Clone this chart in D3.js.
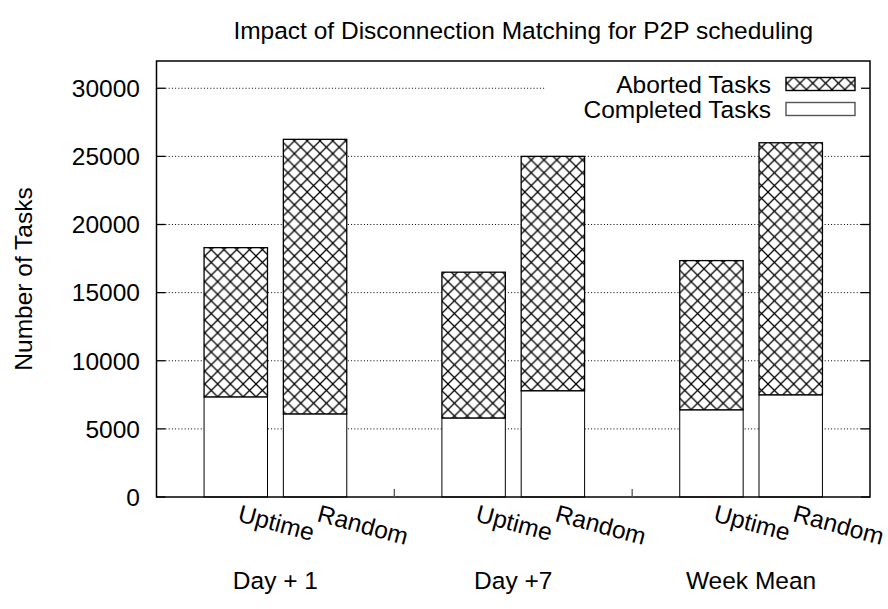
<!DOCTYPE html>
<html>
<head>
<meta charset="utf-8">
<script src="https://cdn.jsdelivr.net/npm/d3@7/dist/d3.min.js"></script>
<style>
  html, body { margin: 0; padding: 0; background: #fff; }
  svg { display: block; font-family: "Liberation Sans", Arial, sans-serif; }
</style>
</head>
<body>
<svg id="chart" width="888" height="609"></svg>
<script>
'use strict';

// Stacked histogram: completed (white) + aborted (crosshatch) per scheduler.

const groups = ['Day + 1', 'Day +7', 'Week Mean'];
const policies = ['Uptime', 'Random'];
// [group][policy]
const completed = [[7350, 6100], [5800, 7800], [6400, 7500]];
const aborted = [[10950, 20150], [10700, 17200], [10950, 18500]];
const yTicks = [0, 5000, 10000, 15000, 20000, 25000, 30000];
const legendItems = ['Aborted Tasks', 'Completed Tasks'];

const W = 888, H = 609;
const M = { left: 156.5, right: 870, top: 61, bottom: 497 };
const FONT = 24.5;
const BAR_W = 0.8;   // in slot units
const SLOTS_PER_GROUP = 3;

const svg = d3.select('#chart');
svg.append('rect').attr('width', W).attr('height', H).attr('fill', '#fff');

// hatch pattern
const defs = svg.append('defs');
const hs = 12.8;
const pat = defs.append('pattern')
	.attr('id', 'xhatch')
	.attr('patternUnits', 'userSpaceOnUse')
	.attr('width', hs).attr('height', hs);
pat.append('rect').attr('width', hs).attr('height', hs).attr('fill', '#fff');
pat.append('path')
	.attr('d', `M0,0L${hs},${hs}M${hs},0L0,${hs}M${-hs / 2},${hs / 2}L${hs / 2},${-hs / 2}`)
	.attr('stroke', '#000').attr('stroke-width', 1.25).attr('fill', 'none');

const nSlots = groups.length * SLOTS_PER_GROUP;
const x = d3.scaleLinear().domain([-1, nSlots - 1]).range([M.left, M.right]);
const y = d3.scaleLinear().domain([0, 32000]).range([M.bottom, M.top]);

const slotOf = (g, p) => g * SLOTS_PER_GROUP + p;

// grid
svg.append('g').selectAll('line')
	.data(yTicks.filter((t) => t > 0))
	.join('line')
	.attr('x1', M.left + 9).attr('x2', M.right - 9)
	.attr('y1', (d) => y(d)).attr('y2', (d) => y(d))
	.attr('stroke', '#000').attr('stroke-width', 1)
	.attr('stroke-dasharray', '1,2.2');

// bars
const rows = [];
groups.forEach((g, gi) => policies.forEach((p, pi) => {
	rows.push({ gi, pi, c: completed[gi][pi], a: aborted[gi][pi] });
}));

const bw = x(BAR_W) - x(0);
const bars = svg.append('g');
bars.selectAll('rect.comp').data(rows).join('rect')
	.attr('x', (d) => x(slotOf(d.gi, d.pi)) - bw / 2)
	.attr('width', bw)
	.attr('y', (d) => y(d.c))
	.attr('height', (d) => y(0) - y(d.c))
	.attr('fill', '#fff').attr('stroke', '#000').attr('stroke-width', 1);
bars.selectAll('rect.abort').data(rows).join('rect')
	.attr('x', (d) => x(slotOf(d.gi, d.pi)) - bw / 2)
	.attr('width', bw)
	.attr('y', (d) => y(d.c + d.a))
	.attr('height', (d) => y(d.c) - y(d.c + d.a))
	.attr('fill', 'url(#xhatch)').attr('stroke', '#000').attr('stroke-width', 1.3);

// legend (opaque key)
const key = svg.append('g');
key.append('rect').attr('x', 545).attr('y', 65).attr('width', 322).attr('height', 58).attr('fill', '#fff');
legendItems.forEach((label, i) => {
	const cy = 84 + i * 25;
	key.append('text')
		.attr('x', 771).attr('y', cy).attr('dy', '0.36em')
		.attr('text-anchor', 'end').attr('font-size', FONT).text(label);
	key.append('rect')
		.attr('x', 786).attr('y', cy - 6.5).attr('width', 69).attr('height', 13)
		.attr('fill', i === 0 ? 'url(#xhatch)' : '#fff')
		.attr('stroke', i === 0 ? '#000' : '#555').attr('stroke-width', 1.4);
});

// frame
svg.append('rect')
	.attr('x', M.left).attr('y', M.top)
	.attr('width', M.right - M.left).attr('height', M.bottom - M.top)
	.attr('fill', 'none').attr('stroke', '#000').attr('stroke-width', 1.5);

// y ticks, both sides, inward
const ticks = svg.append('g').attr('stroke', '#000').attr('stroke-width', 1.3);
yTicks.forEach((t) => {
	ticks.append('line').attr('x1', M.left).attr('x2', M.left + 9).attr('y1', y(t)).attr('y2', y(t));
	ticks.append('line').attr('x1', M.right).attr('x2', M.right - 9).attr('y1', y(t)).attr('y2', y(t));
});
// separators between groups
d3.range(1, groups.length).forEach((gi) => {
	const sx = x(gi * SLOTS_PER_GROUP - 1);
	ticks.append('line').attr('x1', sx).attr('x2', sx).attr('y1', M.bottom).attr('y2', M.bottom - 8)
		.attr('stroke', '#555');
});

svg.append('g').selectAll('text').data(yTicks).join('text')
	.attr('x', 140).attr('y', (d) => y(d)).attr('dy', '0.36em')
	.attr('text-anchor', 'end').attr('font-size', FONT).text((d) => d);

// rotated category labels
rows.forEach((d) => {
	const cx = x(slotOf(d.gi, d.pi)) + 1;
	svg.append('text')
		.attr('transform', `translate(${cx},521) rotate(15)`)
		.attr('font-size', FONT).text(policies[d.pi]);
});

// group labels
svg.append('g').selectAll('text').data(groups).join('text')
	.attr('x', (d, i) => x(slotOf(i, 0.5)))
	.attr('y', 580).attr('dy', '0.36em')
	.attr('text-anchor', 'middle').attr('font-size', FONT).text((d) => d);

// title
svg.append('text')
	.attr('x', (M.left + M.right) / 2 + 10).attr('y', 30).attr('dy', '0.36em')
	.attr('text-anchor', 'middle').attr('font-size', FONT)
	.text('Impact of Disconnection Matching for P2P scheduling');

// y label
svg.append('text')
	.attr('transform', `translate(23,${(M.top + M.bottom) / 2}) rotate(-90)`)
	.attr('dy', '0.36em')
	.attr('text-anchor', 'middle').attr('font-size', FONT).text('Number of Tasks');
</script>
</body>
</html>
